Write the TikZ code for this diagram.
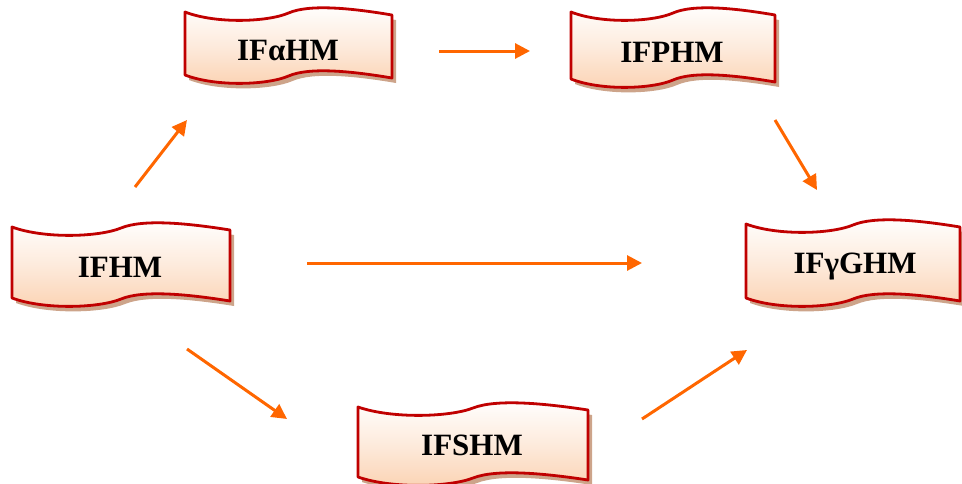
\documentclass[tikz,border=0pt]{standalone}
\usepackage{fontspec}
\setmainfont{Liberation Serif}
\usetikzlibrary{arrows.meta}
\definecolor{boxred}{RGB}{192,0,0}
\definecolor{peach}{RGB}{251,210,178}
\definecolor{shadowtan}{RGB}{196,148,118}
\definecolor{arrorange}{RGB}{255,102,0}
\tikzset{
  labeltext/.style={font=\bfseries\fontsize{31}{31}\selectfont, inner sep=0pt, anchor=base},
  flow/.style={draw=arrorange, line width=3pt, -{Triangle[length=15pt,width=15pt]}},
  waveshadow/.style={fill=shadowtan, opacity=0.85},
  wavebody/.style={top color=white, bottom color=peach, middle color={white!55!peach}, draw=boxred, line width=2.8pt, line join=round},
}
% #1 style, #2 x, #3 y (top-left), #4 width, #5 height
\newcommand\wavepath[5]{%
  \path[#1] (#2,#3)
     .. controls ({#2+0.15*#4},{#3+12}) and ({#2+0.4*#4},{#3+10}) .. ({#2+0.5*#4},{#3+1})
     .. controls ({#2+0.6*#4},{#3-8}) and ({#2+0.8*#4},{#3-4}) .. ({#2+#4},{#3+3})
     -- ({#2+#4},{#3+#5+3})
     .. controls ({#2+0.8*#4},{#3+#5-4}) and ({#2+0.6*#4},{#3+#5-8}) .. ({#2+0.5*#4},{#3+#5+1})
     .. controls ({#2+0.4*#4},{#3+#5+10}) and ({#2+0.15*#4},{#3+#5+12}) .. (#2,{#3+#5})
     -- cycle;
}
\newcommand\wavebox[4]{%
  \begin{scope}[shift={(4,5)}]\wavepath{waveshadow}{#1}{#2}{#3}{#4}\end{scope}
  \wavepath{wavebody}{#1}{#2}{#3}{#4}
}
\begin{document}
\begin{tikzpicture}[x=1pt,y=-1pt]
  \useasboundingbox (0,0) rectangle (962,483);
  % banners
  \wavebox{185}{12}{207}{63}
  \wavebox{571}{12}{204}{67}
  \wavebox{12}{227}{218}{71}
  \wavebox{746}{224}{214}{74}
  \wavebox{358}{407}{230}{70}
  % labels
  \node[labeltext] (ifahm) at (288,60) {IFαHM};
  \node[labeltext] (ifphm) at (672,62) {IFPHM};
  \node[labeltext] (ifhm)  at (120,277) {IFHM};
  \node[labeltext] (ifgghm) at (855,273) {IFγGHM};
  \node[labeltext] (ifshm) at (472,455) {IFSHM};
  % arrow end points
  \coordinate (a1s) at (135,187); \coordinate (a1e) at (187,120);
  \coordinate (a2s) at (439,51);  \coordinate (a2e) at (530,51);
  \coordinate (a3s) at (775,120); \coordinate (a3e) at (817,190);
  \coordinate (a4s) at (187,349); \coordinate (a4e) at (287,419);
  \coordinate (a5s) at (642,419); \coordinate (a5e) at (747,350);
  \coordinate (a6s) at (307,263); \coordinate (a6e) at (642,263);
  \draw[flow] (a1s) -- (a1e);
  \draw[flow] (a2s) -- (a2e);
  \draw[flow] (a3s) -- (a3e);
  \draw[flow] (a4s) -- (a4e);
  \draw[flow] (a5s) -- (a5e);
  \draw[flow] (a6s) -- (a6e);
\end{tikzpicture}
\end{document}
